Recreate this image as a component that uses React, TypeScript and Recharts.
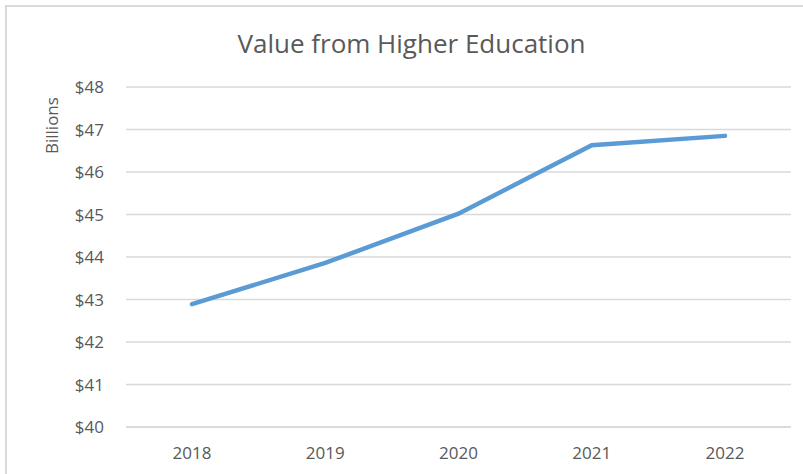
import { LineChart, Line, XAxis, YAxis, CartesianGrid } from "recharts";

const years = ["2018", "2019", "2020", "2021", "2022"];
const values = [42.89, 43.86, 45.02, 46.63, 46.85];
const yTicks = [40, 41, 42, 43, 44, 45, 46, 47, 48];

const data = years.map((year, i) => ({ year, value: values[i] }));

const font = "'Open Sans', sans-serif";
const gray = "#595959";

export default function App() {
  return (
    <div style={{ position: "absolute", left: 0, top: 0, width: 803, height: 474, background: "#fff", overflow: "hidden", fontFamily: font }}>
      <div style={{ position: "absolute", left: 5, top: 5, width: 820, height: 500, border: "2px solid #d9d9d9", boxSizing: "border-box" }} />
      <div style={{ position: "absolute", left: 0, width: 823, top: 25, textAlign: "center", fontSize: 26, color: gray }}>
        Value from Higher Education
      </div>
      <div style={{ position: "absolute", left: 0, top: 0 }}>
        <LineChart width={803} height={474} data={data} margin={{ top: 87, right: 12, bottom: 17, left: 0 }}>
          <CartesianGrid vertical={false} stroke="#d9d9d9" strokeWidth={1.5} />
          <XAxis
            dataKey="year"
            height={30}
            padding={{ left: 66, right: 66 }}
            tickLine={false}
            axisLine={{ stroke: "#d9d9d9", strokeWidth: 1.5 }}
            tick={{ fill: gray, fontSize: 17, fontFamily: font }}
            tickMargin={14}
          />
          <YAxis
            width={126}
            domain={[40, 48]}
            ticks={yTicks}
            tickLine={false}
            axisLine={false}
            tickFormatter={(v: number) => `$${v}`}
            tick={{ fill: gray, fontSize: 17, fontFamily: font }}
            tickMargin={16}
            label={{ value: "Billions", angle: -90, position: "insideTopLeft", dx: 41, dy: 62, fill: gray, fontSize: 17, fontFamily: font }}
          />
          <Line
            dataKey="value"
            stroke="#5b9bd5"
            strokeWidth={4.5}
            dot={false}
            strokeLinecap="round"
            isAnimationActive={false}
          />
        </LineChart>
      </div>
    </div>
  );
}
